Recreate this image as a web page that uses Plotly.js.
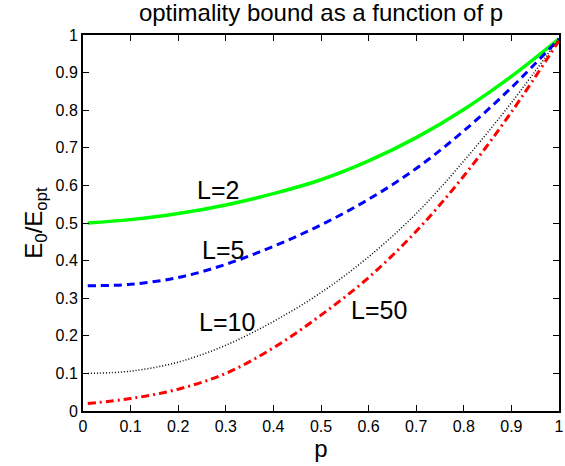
<!DOCTYPE html>
<html>
<head>
<meta charset="utf-8">
<script src="https://cdn.plot.ly/plotly-3.0.1.min.js"></script>
<style>html,body{margin:0;padding:0;background:#fff;}#chart{width:565px;height:466px;}</style>
</head>
<body>
<div id="chart"></div>
<script>
var p     = [0.01, 0.1, 0.2, 0.3, 0.4, 0.5, 0.6, 0.7, 0.8, 0.9, 1.0];
var L2    = [0.500, 0.509, 0.525, 0.548, 0.578, 0.615, 0.665, 0.727, 0.802, 0.890, 0.99];
var L5    = [0.333, 0.337, 0.355, 0.390, 0.438, 0.495, 0.563, 0.645, 0.745, 0.860, 0.99];
var L10   = [0.100, 0.106, 0.130, 0.175, 0.238, 0.315, 0.410, 0.525, 0.665, 0.820, 0.99];
var L50   = [0.020, 0.033, 0.058, 0.100, 0.168, 0.255, 0.355, 0.478, 0.625, 0.795, 0.985];
var labels = ["L=2", "L=5", "L=10", "L=50"];
var labelX = [0.284, 0.294, 0.303, 0.622];
var labelY = [0.589, 0.428, 0.236, 0.268];

var font = "Liberation Sans, Arial, Helvetica, sans-serif";
var traces = [
  {x: p, y: L2,  mode: "lines", line: {color: "#00ff00", width: 3.5, shape: "spline"}},
  {x: p, y: L5,  mode: "lines", line: {color: "#0000ff", width: 3, dash: "8px,5px", shape: "spline"}},
  {x: p, y: L10, mode: "lines", line: {color: "#000000", width: 1.5, dash: "1px,2px", shape: "spline"}},
  {x: p, y: L50, mode: "lines", line: {color: "#ff0000", width: 3, dash: "8px,4px,2px,4px", shape: "spline"}}
];
var annotations = labels.map(function(t, i){
  return {x: labelX[i], y: labelY[i], xref: "x", yref: "y", text: t, showarrow: false,
          xanchor: "center", yanchor: "middle", font: {family: font, size: 25, color: "#000"}};
});
var axisCommon = {
  range: [0, 1], dtick: 0.1, tick0: 0, ticks: "inside", ticklen: 6, tickwidth: 1,
  tickcolor: "#000", showline: true, linecolor: "#000", linewidth: 2, mirror: "ticks",
  showgrid: false, zeroline: false, tickfont: {family: font, size: 16, color: "#000"}
};
var layout = {
  width: 565, height: 466,
  margin: {l: 83, r: 6, t: 35, b: 55},
  paper_bgcolor: "#fff", plot_bgcolor: "#fff",
  showlegend: false,
  title: {text: "optimality bound as a function of p", font: {family: font, size: 24, color: "#000"},
          xref: "paper", x: 0.5, xanchor: "center", yref: "container", y: 0.972, yanchor: "middle"},
  xaxis: Object.assign({}, axisCommon, {title: {text: "p", font: {family: font, size: 24, color: "#000"}, standoff: 2}}),
  yaxis: Object.assign({}, axisCommon, {title: {text: "E<sub>0</sub>/E<sub>opt</sub>", font: {family: font, size: 24, color: "#000"}, standoff: 6}}),
  annotations: annotations
};
Plotly.newPlot("chart", traces, layout, {displayModeBar: false, staticPlot: true});
</script>
</body>
</html>
